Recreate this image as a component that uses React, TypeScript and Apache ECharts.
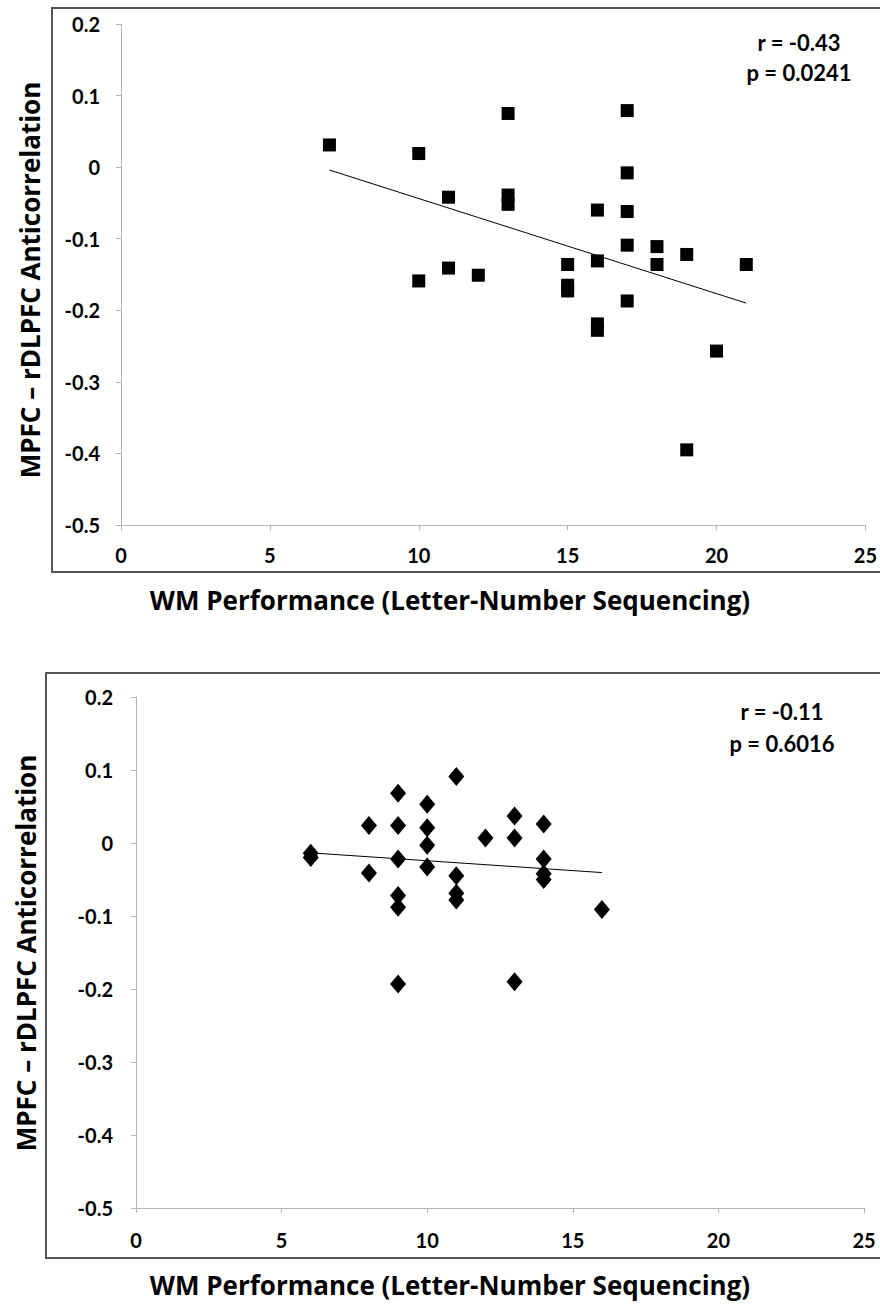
import React, { useEffect, useRef } from "react";
import * as echarts from "echarts";

// Top panel (Letter-Number Sequencing vs MPFC – rDLPFC anticorrelation)
const topX = [7, 10, 13, 17, 17, 11, 13, 13, 16, 17, 17, 18, 19, 21, 18, 16, 15, 11, 12, 10, 15, 15, 17, 16, 16, 20, 19];
const topY = [0.031, 0.019, 0.075, 0.079, -0.008, -0.042, -0.039, -0.052, -0.06, -0.062, -0.109, -0.111, -0.122, -0.136, -0.136, -0.131, -0.136, -0.141, -0.151, -0.159, -0.165, -0.173, -0.187, -0.219, -0.228, -0.257, -0.395];
const topTrendX = [7, 21];
const topTrendY = [-0.004, -0.19];
const topStats = ["r = -0.43", "p = 0.0241"];

// Bottom panel
const botX = [6, 6, 8, 8, 9, 9, 9, 9, 9, 9, 10, 10, 10, 10, 11, 11, 11, 11, 12, 13, 13, 13, 14, 14, 14, 14, 16];
const botY = [-0.014, -0.02, 0.024, -0.041, 0.068, 0.024, -0.022, -0.072, -0.088, -0.193, 0.053, 0.021, -0.003, -0.033, 0.091, -0.045, -0.069, -0.078, 0.007, 0.037, 0.007, -0.19, 0.026, -0.022, -0.042, -0.05, -0.091];
const botTrendX = [6, 16];
const botTrendY = [-0.0135, -0.0405];
const botStats = ["r = -0.11", "p = 0.6016"];

const xTitle = "WM Performance (Letter-Number Sequencing)";
const yTitle = "MPFC – rDLPFC Anticorrelation";
const xRange = [0, 25, 5];
const yRange = [-0.5, 0.2, 0.1];

const FONT = "Lato";
const TITLE_FONT = "Open Sans";

function pairs(xs: number[], ys: number[]) {
  return xs.map((x, i) => [x, ys[i]]);
}

export default function App() {
  const ref = useRef<HTMLDivElement>(null);
  useEffect(() => {
    document.body.style.margin = "0";
    const chart = echarts.init(ref.current!, undefined, { renderer: "svg" });
    const axisGray = "#b4b4b4";
    const mkX = (gi: number, margin: number) => ({
      type: "value",
      gridIndex: gi,
      min: xRange[0],
      max: xRange[1],
      interval: xRange[2],
      splitLine: { show: false },
      axisLine: { show: true, onZero: false, lineStyle: { color: axisGray, width: 1 } },
      axisTick: { show: true, length: 5, lineStyle: { color: axisGray } },
      axisLabel: { margin, color: "#000", fontFamily: FONT, fontWeight: "bold", fontSize: 20 },
    });
    const mkY = (gi: number, margin: number) => ({
      type: "value",
      gridIndex: gi,
      min: yRange[0],
      max: yRange[1],
      interval: yRange[2],
      splitLine: { show: false },
      axisLine: { show: true, onZero: false, lineStyle: { color: axisGray, width: 1 } },
      axisTick: { show: true, length: 5, lineStyle: { color: axisGray } },
      axisLabel: {
        margin,
        color: "#000",
        fontFamily: FONT,
        fontWeight: "bold",
        fontSize: 20,
        formatter: (v: number) => String(Math.round(v * 10) / 10),
      },
    });
    const txt = (text: string, x: number, y: number, size: number, family: string, rot = 0) => ({
      type: "text",
      x,
      y,
      rotation: rot,
      style: {
        text,
        fill: "#000",
        fontFamily: family,
        fontWeight: "bold",
        fontSize: size,
        align: "center",
        verticalAlign: "middle",
      },
    });
    chart.setOption({
      animation: false,
      backgroundColor: "#fff",
      grid: [
        { left: 121, top: 24, width: 745, height: 501 },
        { left: 136, top: 697, width: 728, height: 511 },
      ],
      xAxis: [mkX(0, 20), mkX(1, 22)],
      yAxis: [mkY(0, 21), mkY(1, 23)],
      graphic: [
        { type: "rect", shape: { x: 52, y: 8, width: 840, height: 564 }, style: { fill: "none", stroke: "#555", lineWidth: 2 }, z: -1 },
        { type: "rect", shape: { x: 46, y: 673, width: 846, height: 585 }, style: { fill: "none", stroke: "#555", lineWidth: 2 }, z: -1 },
        txt(topStats[0], 799, 42, 22, FONT),
        txt(topStats[1], 799, 72, 22, FONT),
        txt(botStats[0], 782, 711, 22, FONT),
        txt(botStats[1], 782, 743, 22, FONT),
        txt(xTitle, 450, 600, 26, TITLE_FONT),
        txt(xTitle, 450, 1285, 26, TITLE_FONT),
        txt(yTitle, 30, 280, 26, TITLE_FONT, Math.PI / 2),
        txt(yTitle, 26, 953, 26, TITLE_FONT, Math.PI / 2),
      ],
      series: [
        {
          type: "scatter",
          xAxisIndex: 0,
          yAxisIndex: 0,
          symbol: "rect",
          symbolSize: 13,
          itemStyle: { color: "#000", opacity: 1 },
          data: pairs(topX, topY),
          z: 3,
        },
        {
          type: "line",
          xAxisIndex: 0,
          yAxisIndex: 0,
          symbol: "none",
          lineStyle: { color: "#000", width: 1 },
          data: pairs(topTrendX, topTrendY),
          z: 2,
        },
        {
          type: "scatter",
          xAxisIndex: 1,
          yAxisIndex: 1,
          symbol: "diamond",
          symbolSize: [16, 19],
          itemStyle: { color: "#000", opacity: 1 },
          data: pairs(botX, botY),
          z: 3,
        },
        {
          type: "line",
          xAxisIndex: 1,
          yAxisIndex: 1,
          symbol: "none",
          lineStyle: { color: "#000", width: 1 },
          data: pairs(botTrendX, botTrendY),
          z: 2,
        },
      ],
    });
    return () => chart.dispose();
  }, []);
  return <div ref={ref} style={{ width: 880, height: 1304 }} />;
}
